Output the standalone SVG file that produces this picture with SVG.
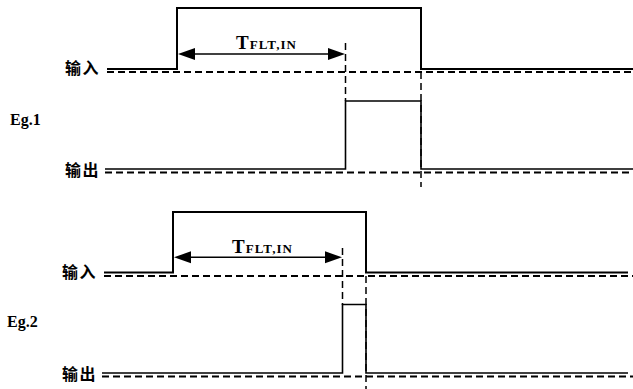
<svg xmlns="http://www.w3.org/2000/svg" width="633" height="389" viewBox="0 0 633 389">
<defs>
<style>
.sig{fill:none;stroke:#000;stroke-width:2}
.sig2{fill:none;stroke:#000;stroke-width:1.6}
.base{fill:none;stroke:#000;stroke-width:2;stroke-dasharray:7 4}
.vd{fill:none;stroke:#000;stroke-width:1.5;stroke-dasharray:7 4}
.arr{fill:none;stroke:#000;stroke-width:1.5}
.head{fill:#000;stroke:none}
.cjk{font-family:"Noto Sans CJK SC","Noto Sans",sans-serif;font-weight:bold;font-size:16px;letter-spacing:1.5px}
.eg{font-family:"Liberation Serif","Times New Roman",serif;font-weight:bold;font-size:16px}
.t{font-family:"Liberation Serif","Times New Roman",serif;font-weight:bold}
</style>
<path id="hr" class="head" d="M0,0 L-17,-6 L-17,6 Z"/>
<path id="hl" class="head" d="M0,0 L17,-6 L17,6 Z"/>
</defs>
<rect width="633" height="389" fill="#fff"/>

<g id="eg1-labels">
<text class="cjk" x="65" y="74">输入</text>
<text class="cjk" x="65" y="176">输出</text>
<text class="eg" x="10" y="125">Eg.1</text>
<text class="t" x="236" y="48.7" textLength="60" lengthAdjust="spacing"><tspan font-size="19">T</tspan><tspan font-size="13">FLT,IN</tspan></text>
</g>
<g id="eg1-input">
<path class="sig" d="M107,69 H177 V8 H421 V69 H633"/>
<path class="base" d="M107,72 H633"/>
</g>
<g id="eg1-output">
<path class="sig2" d="M105,169 H345.5 V101 H421 V169 H633"/>
<path class="base" d="M105,172.5 H633"/>
</g>

<g id="eg2-labels">
<text class="cjk" x="62" y="277.5">输入</text>
<text class="cjk" x="62" y="380">输出</text>
<text class="eg" x="7" y="327">Eg.2</text>
<text class="t" x="232" y="253" textLength="60" lengthAdjust="spacing"><tspan font-size="19">T</tspan><tspan font-size="13">FLT,IN</tspan></text>
</g>
<g id="eg2-input">
<path class="sig" d="M104,272.5 H173 V212 H366 V272.5 H628"/>
<path class="base" d="M104,276 H633"/>
</g>
<g id="eg2-output">
<path class="sig2" d="M102,373 H342.5 V304.5 H366 V373 H628"/>
<path class="base" d="M102,376.5 H633"/>
</g>

<g id="connectors">
<path class="arr" d="M190,54 H333"/>
<use href="#hl" x="178" y="54"/>
<use href="#hr" x="345" y="54"/>
<path class="vd" d="M345.5,43 V101"/>
<path class="vd" d="M421,72 V187"/>
<path class="arr" d="M186,257.3 H330"/>
<use href="#hl" x="174" y="257.3"/>
<use href="#hr" x="342" y="257.3"/>
<path class="vd" d="M342.5,248 V305"/>
<path class="vd" d="M366,276 V389"/>
</g>
</svg>
